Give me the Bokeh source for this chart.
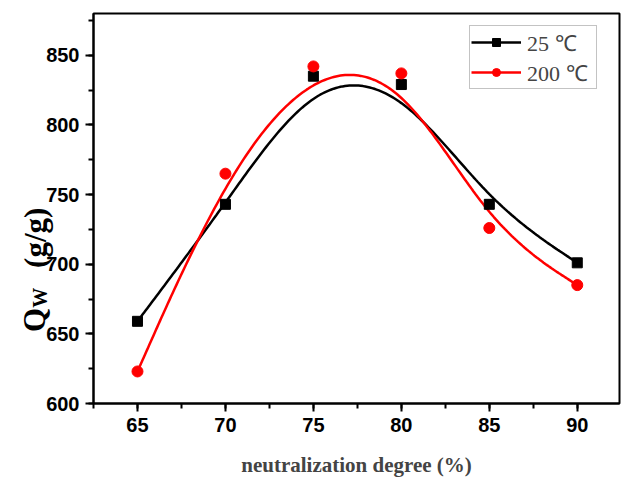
import numpy as np
from bokeh.plotting import figure
from bokeh.models import Range1d, Legend, LegendItem, FixedTicker, LinearAxis
from bokeh.embed import file_html
from bokeh.resources import INLINE

# data
x_vals = [65, 70, 75, 80, 85, 90]
q_25 = [659, 743, 835, 829, 743, 701]
q_200 = [623, 765, 842, 837, 726, 685]
x_ticks = [65, 70, 75, 80, 85, 90]
y_ticks = [600, 650, 700, 750, 800, 850]


def bspline(x, y, n=40):
    """Uniform cubic B-spline using the data points as control points
    (end points tripled so the curve starts/ends on them)."""
    P = np.column_stack([np.asarray(x, float), np.asarray(y, float)])
    P = np.vstack([P[0], P[0], P, P[-1], P[-1]])
    t = np.linspace(0, 1, n)[:, None]
    b0 = (1 - t) ** 3 / 6
    b1 = (3 * t ** 3 - 6 * t ** 2 + 4) / 6
    b2 = (-3 * t ** 3 + 3 * t ** 2 + 3 * t + 1) / 6
    b3 = t ** 3 / 6
    segs = [b0 * P[i] + b1 * P[i + 1] + b2 * P[i + 2] + b3 * P[i + 3]
            for i in range(len(P) - 3)]
    pts = np.vstack(segs)
    return pts[:, 0], pts[:, 1]


p = figure(width=621, height=479, output_backend="svg", toolbar_location=None,
           x_range=Range1d(62.5, 92.4), y_range=Range1d(600, 880),
           y_axis_location=None,
           min_border_left=93, min_border_right=2, min_border_top=13, min_border_bottom=74)
p.grid.visible = False
p.background_fill_color = "white"
p.border_fill_color = "white"
p.outline_line_color = "black"
p.outline_line_width = 2

yaxis = LinearAxis()
p.add_layout(yaxis, "left")

for ax in (p.xaxis[0], yaxis):
    ax.axis_line_width = 2
    ax.major_tick_line_width = 2
    ax.minor_tick_line_width = 2
    ax.major_tick_in = 0
    ax.major_tick_out = 8
    ax.minor_tick_in = 0
    ax.minor_tick_out = 5
    ax.major_label_text_font = "Liberation Sans"
    ax.major_label_text_font_size = "20px"
    ax.major_label_text_font_style = "bold"
    ax.major_label_text_color = "black"
    ax.major_label_standoff = 6

p.xaxis[0].ticker = FixedTicker(ticks=x_ticks, minor_ticks=[62.5 + 2.5 * i for i in range(13)])
yaxis.ticker = FixedTicker(ticks=y_ticks, minor_ticks=[600 + 25 * i for i in range(12)])

p.xaxis[0].axis_label = "neutralization degree (%)"
p.xaxis[0].axis_label_text_font = "Liberation Serif"
p.xaxis[0].axis_label_text_font_style = "bold"
p.xaxis[0].axis_label_text_font_size = "21px"
p.xaxis[0].axis_label_standoff = 18

# y axis title "Q_W (g/g)" built from two label-only axes (subscript W nearer the axis)
def label_axis(ticks, texts, size, standoff):
    a = LinearAxis(ticker=FixedTicker(ticks=ticks, minor_ticks=[]),
                   major_label_overrides=dict(zip(ticks, texts)),
                   major_label_orientation="vertical",
                   axis_line_color=None, major_tick_line_color=None,
                   minor_tick_line_color=None, major_tick_out=0, major_tick_in=0,
                   minor_tick_out=0, minor_tick_in=0,
                   major_label_standoff=standoff,
                   major_label_text_font="Liberation Serif",
                   major_label_text_font_style="bold",
                   major_label_text_font_size=size,
                   major_label_text_color="black")
    p.add_layout(a, "left")
    return a

label_axis([676], ["W"], "20px", -8)
label_axis([660, 719], ["Q", "(g/g)"], "31px", -26)

# curves
xs25, ys25 = bspline(x_vals, q_25)
xs200, ys200 = bspline(x_vals, q_200)

l25 = p.line(xs25, ys25, line_color="black", line_width=2.5)
l200 = p.line(xs200, ys200, line_color="#ff0000", line_width=2.5)
s25 = p.scatter(x_vals, q_25, marker="square", size=10, fill_color="black", line_color="black")
s200 = p.scatter(x_vals, q_200, marker="circle", size=11, fill_color="#ff0000", line_color="#ff0000")

legend = Legend(items=[LegendItem(label="25 \u2103", renderers=[l25, s25]),
                       LegendItem(label="200 \u2103", renderers=[l200, s200])],
                location=(376, 314), label_text_font="Liberation Serif",
                label_text_font_size="22px", glyph_width=50, glyph_height=20,
                label_height=20, label_width=68, spacing=0, padding=1, label_standoff=6,
                border_line_color="#888888", border_line_width=1,
                background_fill_alpha=1.0)
p.add_layout(legend, "center")

open("out.html", "w").write(file_html(p, INLINE))
